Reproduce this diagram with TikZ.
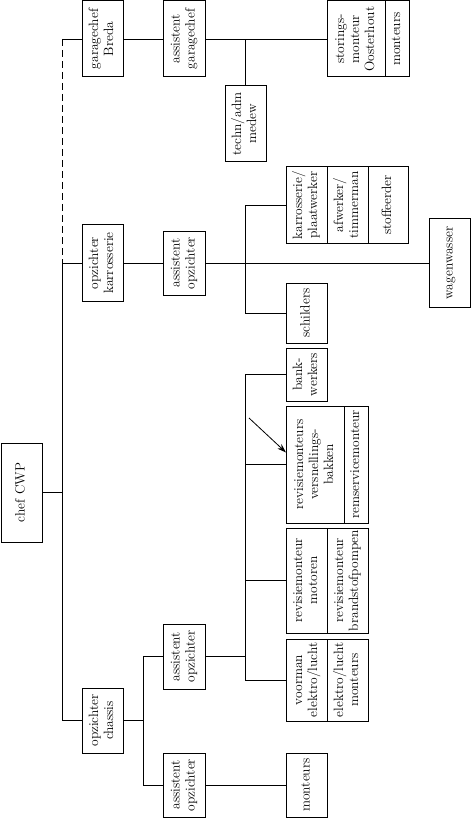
\documentclass[tikz,border=0pt]{standalone}
\usepackage{graphicx}
\usetikzlibrary{positioning,arrows.meta}

\newcommand{\kantel}[1]{\rotatebox{90}{\begin{tabular}{@{}c@{}}#1\end{tabular}}}

\begin{document}
\begin{tikzpicture}[
    x=1pt, y=-1pt,
    every node/.style={font=\fontsize{13.5}{15}\selectfont},
    functie/.style={rectangle, draw, line width=1pt, inner sep=0pt, outer sep=0pt, minimum width=41pt, minimum height=76pt},
    lijn/.style={line width=0.8pt},
    pijl/.style={line width=0.8pt, -{Stealth[length=9pt,width=6pt]}}
]
\useasboundingbox (0,0) rectangle (471,818);

% Hulplijnen
\coordinate (stam) at (62,0);
\coordinate (vork) at (143,0);
\coordinate (tak) at (245,0);

% Leiding
\node[functie, minimum height=99pt] (chef) at (21.5,492.5) {\kantel{chef CWP}};

% Garage Breda
\node[functie] (garagechef) at (102.5,39) {\kantel{garagechef\\Breda}};
\node[functie, minimum width=42pt] (asgarage) at (184,39) {\kantel{assistent\\garagechef}};
\node[functie] (techn) at (245.5,124) {\kantel{techn/adm\\medew}};
\node[functie, minimum width=58pt] (storing) at (356,39) {\kantel{storings-\\monteur\\Oosterhout}};
\node[functie, minimum width=24pt, right=0pt of storing] (monteursG) {\kantel{monteurs}};

% Karrosserie
\node[functie] (opzkar) at (102.5,263) {\kantel{opzichter\\karrosserie}};
\node[functie, minimum width=42pt, minimum height=64pt] (askar) at (184,263) {\kantel{assistent\\opzichter}};
\node[functie] (plaat) at (306.5,205) {\kantel{karrosserie/\\plaatwerker}};
\node[functie, right=0pt of plaat] (timmer) {\kantel{afwerker/\\timmerman}};
\node[functie, minimum width=40pt, right=0pt of timmer] (stoffeerder) {\kantel{stoffeerder}};
\node[functie, minimum height=88pt] (wagenwasser) at (449.5,263) {\kantel{wagenwasser}};
\node[functie, minimum height=60pt] (schilders) at (306.5,313) {\kantel{schilders}};

% Chassis
\node[functie, minimum height=65pt] (opzch) at (102.5,720.5) {\kantel{opzichter\\chassis}};
\node[functie, minimum width=42pt, minimum height=65pt] (asch1) at (184,656.5) {\kantel{assistent\\opzichter}};
\node[functie, minimum width=42pt, minimum height=64pt] (asch2) at (184,785) {\kantel{assistent\\opzichter}};
\node[functie, minimum height=64pt] (monteursC) at (306.5,785) {\kantel{monteurs}};
\node[functie, minimum height=53pt] (bank) at (306.5,374.5) {\kantel{bank-\\werkers}};
\node[functie, minimum width=58pt, minimum height=117pt] (revbak) at (315,464.5) {\kantel{revisiemonteurs\\versnellings-\\bakken}};
\node[functie, minimum width=24pt, minimum height=117pt, right=0pt of revbak] (remserv) {\kantel{remservicemonteur}};
\node[functie, minimum height=105pt] (motoren) at (306.5,580.5) {\kantel{revisiemonteur\\motoren}};
\node[functie, minimum height=105pt, right=0pt of motoren] (brandstof) {\kantel{revisiemonteur\\brandstofpompen}};
\node[functie, minimum height=82pt] (voorman) at (306.5,680) {\kantel{voorman\\elektro/lucht}};
\node[functie, minimum height=82pt, right=0pt of voorman] (elektro) {\kantel{elektro/lucht\\monteurs}};

% Hoofdlijn
\draw[lijn] (chef.east) -- (chef.east -| stam);
\draw[lijn] (garagechef.west) -- (garagechef.west -| stam);
\draw[lijn, dash pattern=on 7pt off 4pt] (garagechef.west -| stam) -- (opzkar.west -| stam);
\draw[lijn] (opzkar.west) -| (stam |- opzch.west) -- (opzch.west);

% Garage
\draw[lijn] (garagechef) -- (asgarage);
\draw[lijn] (asgarage) -- (storing);
\draw[lijn] (techn.north) -- (techn.north |- asgarage.east);

% Karrosserie
\draw[lijn] (opzkar) -- (askar);
\draw[lijn] (askar) -- (wagenwasser);
\draw[lijn] (plaat.west) -| (tak |- schilders.west) -- (schilders.west);

% Chassis
\draw[lijn] (opzch.east) -- (opzch.east -| vork);
\draw[lijn] (asch1.west) -| (vork |- asch2.west) -- (asch2.west);
\draw[lijn] (asch2) -- (monteursC);
\draw[lijn] (asch1.east) -- (asch1.east -| tak);
\draw[lijn] (bank.west) -| (tak |- voorman.west) -- (voorman.west);
\draw[lijn] (revbak.west -| tak) -- (revbak.west);
\draw[lijn] (motoren.west -| tak) -- (motoren.west);
\coordinate (pijlbegin) at (249,418);
\draw[pijl] (pijlbegin) -- ([yshift=12pt]revbak.west);

\end{tikzpicture}
\end{document}
